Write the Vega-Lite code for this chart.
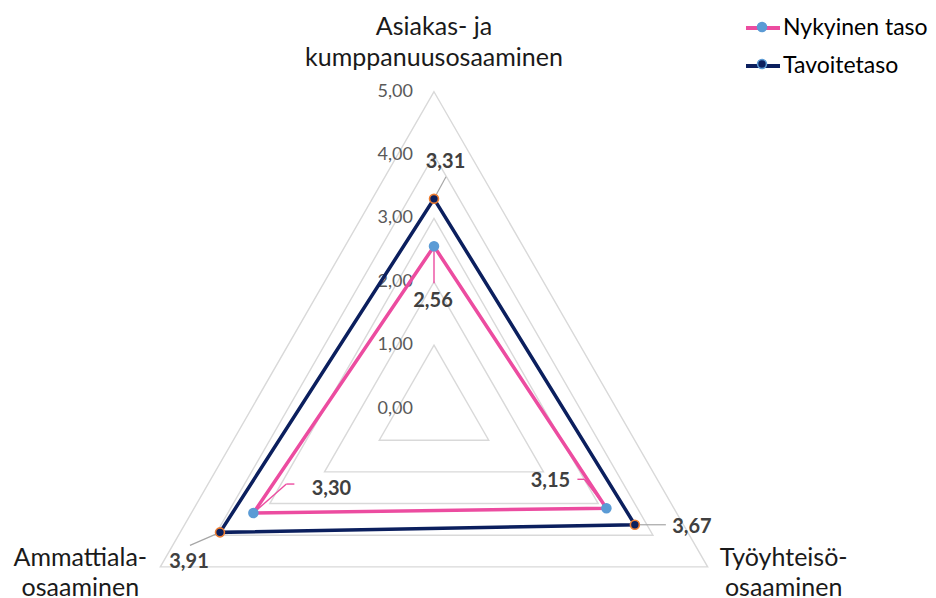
{
  "$schema": "https://vega.github.io/schema/vega-lite/v6.json",
  "width": 936,
  "height": 598,
  "padding": 0,
  "autosize": {"type": "none"},
  "config": {
    "view": {"stroke": null},
    "font": "Lato",
    "locale": {"number": {"decimal": ",", "thousands": "\u00a0", "grouping": [3], "currency": ["", " €"]}}
  },
  "datasets": {
    "scores": [
      {"cat": "Asiakas- ja kumppanuusosaaminen", "order": 0, "series": "Nykyinen taso", "value": 2.56},
      {"cat": "Työyhteisö-osaaminen", "order": 1, "series": "Nykyinen taso", "value": 3.15},
      {"cat": "Ammattiala-osaaminen", "order": 2, "series": "Nykyinen taso", "value": 3.30},
      {"cat": "Asiakas- ja kumppanuusosaaminen", "order": 0, "series": "Tavoitetaso", "value": 3.31},
      {"cat": "Työyhteisö-osaaminen", "order": 1, "series": "Tavoitetaso", "value": 3.67},
      {"cat": "Ammattiala-osaaminen", "order": 2, "series": "Tavoitetaso", "value": 3.91}
    ],
    "grid": [
      {"level": 1, "order": 0}, {"level": 1, "order": 1}, {"level": 1, "order": 2},
      {"level": 2, "order": 0}, {"level": 2, "order": 1}, {"level": 2, "order": 2},
      {"level": 3, "order": 0}, {"level": 3, "order": 1}, {"level": 3, "order": 2},
      {"level": 4, "order": 0}, {"level": 4, "order": 1}, {"level": 4, "order": 2},
      {"level": 5, "order": 0}, {"level": 5, "order": 1}, {"level": 5, "order": 2}
    ],
    "ticks": [{"level": 0}, {"level": 1}, {"level": 2}, {"level": 3}, {"level": 4}, {"level": 5}]
  },
  "data": {"name": "scores"},
  "transform": [
    {"calculate": "datum.order * 2 * PI / 3", "as": "angle"},
    {"calculate": "datum.value * sin(datum.angle)", "as": "x"},
    {"calculate": "datum.value * cos(datum.angle)", "as": "y"},
    {"calculate": "5 * sin(datum.angle)", "as": "x5"},
    {"calculate": "5 * cos(datum.angle)", "as": "y5"},
    {"calculate": "replace(datum.cat, regexp('(-( ja)?) ?'), '$1|')", "as": "catLabel"}
  ],
  "encoding": {
    "x": {"field": "x", "type": "quantitative", "scale": {"domain": [-6.867, 7.943], "nice": false, "zero": false}, "axis": null},
    "y": {"field": "y", "type": "quantitative", "scale": {"domain": [-2.991, 6.448], "nice": false, "zero": false}, "axis": null}
  },
  "layer": [
    {
      "data": {"name": "grid"},
      "transform": [
        {"calculate": "datum.order * 2 * PI / 3", "as": "angle"},
        {"calculate": "datum.level * sin(datum.angle)", "as": "x"},
        {"calculate": "datum.level * cos(datum.angle)", "as": "y"}
      ],
      "mark": {"type": "line", "interpolate": "linear-closed", "stroke": "#D9D9D9", "strokeWidth": 1.4},
      "encoding": {
        "detail": {"field": "level", "type": "nominal"},
        "order": {"field": "order", "type": "quantitative"}
      }
    },
    {
      "data": {"name": "ticks"},
      "transform": [
        {"calculate": "0", "as": "x"},
        {"calculate": "datum.level", "as": "y"}
      ],
      "mark": {"type": "text", "align": "right", "baseline": "middle", "dx": -21, "fontSize": 18, "color": "#595959"},
      "encoding": {
        "text": {"field": "level", "type": "quantitative", "format": ".2f"}
      }
    },
    {
      "mark": {"type": "line", "interpolate": "linear-closed", "strokeWidth": 3.5},
      "encoding": {
        "stroke": {
          "field": "series", "type": "nominal",
          "scale": {"domain": ["Nykyinen taso", "Tavoitetaso"], "range": ["#EC4CA0", "#0B1F5E"]},
          "legend": {
            "orient": "none", "legendX": 744, "legendY": 9, "title": null,
            "symbolType": "stroke", "symbolStrokeWidth": 4, "symbolSize": 1156,
            "labelFontSize": 23, "labelFont": "Lato", "labelColor": "#000000",
            "labelOffset": 1, "rowPadding": 7, "padding": 0
          }
        },
        "detail": {"field": "series", "type": "nominal"},
        "order": {"field": "order", "type": "quantitative"}
      }
    },
    {
      "transform": [{"filter": "datum.series == 'Tavoitetaso' && datum.order == 0"}],
      "mark": {"type": "rule", "stroke": "#A6A6A6", "strokeWidth": 1.2, "x2Offset": 12, "y2Offset": -22},
      "encoding": {"x2": {"field": "x"}, "y2": {"field": "y"}}
    },
    {
      "transform": [{"filter": "datum.series == 'Nykyinen taso' && datum.order == 0"}],
      "mark": {"type": "rule", "stroke": "#EC4CA0", "strokeWidth": 1.4, "y2Offset": 37},
      "encoding": {"x2": {"field": "x"}, "y2": {"field": "y"}}
    },
    {
      "transform": [{"filter": "datum.series == 'Nykyinen taso' && datum.order == 2"}],
      "mark": {"type": "rule", "stroke": "#EC4CA0", "strokeWidth": 1.4, "x2Offset": 33, "y2Offset": -29},
      "encoding": {"x2": {"field": "x"}, "y2": {"field": "y"}}
    },
    {
      "transform": [{"filter": "datum.series == 'Nykyinen taso' && datum.order == 2"}],
      "mark": {"type": "rule", "stroke": "#EC4CA0", "strokeWidth": 1.4, "xOffset": 33, "yOffset": -29, "x2Offset": 41, "y2Offset": -29},
      "encoding": {"x2": {"field": "x"}, "y2": {"field": "y"}}
    },
    {
      "transform": [{"filter": "datum.series == 'Tavoitetaso' && datum.order == 2"}],
      "mark": {"type": "rule", "stroke": "#A6A6A6", "strokeWidth": 1.2, "x2Offset": -30, "y2Offset": 13},
      "encoding": {"x2": {"field": "x"}, "y2": {"field": "y"}}
    },
    {
      "transform": [{"filter": "datum.series == 'Nykyinen taso' && datum.order == 1"}],
      "mark": {"type": "rule", "stroke": "#EC4CA0", "strokeWidth": 1.4, "x2Offset": -22, "y2Offset": -29},
      "encoding": {"x2": {"field": "x"}, "y2": {"field": "y"}}
    },
    {
      "transform": [{"filter": "datum.series == 'Nykyinen taso' && datum.order == 1"}],
      "mark": {"type": "rule", "stroke": "#EC4CA0", "strokeWidth": 1.4, "xOffset": -22, "yOffset": -29, "x2Offset": -29, "y2Offset": -29},
      "encoding": {"x2": {"field": "x"}, "y2": {"field": "y"}}
    },
    {
      "transform": [{"filter": "datum.series == 'Tavoitetaso' && datum.order == 1"}],
      "mark": {"type": "rule", "stroke": "#A6A6A6", "strokeWidth": 1.2, "xOffset": 5, "x2Offset": 31},
      "encoding": {"x2": {"field": "x"}, "y2": {"field": "y"}}
    },
    {
      "mark": {"type": "point", "filled": true, "shape": "circle", "size": 80, "strokeWidth": 1.6, "opacity": 1},
      "encoding": {
        "fill": {
          "field": "series", "type": "nominal",
          "scale": {"range": ["#5B9BD5", "#0B1F5E"]},
          "legend": {
            "orient": "none", "legendX": 756.5, "legendY": 21.5, "title": null,
            "symbolType": "circle", "symbolSize": 80, "symbolStrokeWidth": 1.6,
            "labelExpr": "''", "labelFontSize": 1, "labelOffset": 0, "rowPadding": 20, "padding": 0,
            "symbolOpacity": 1,
            "encode": {"symbols": {"update": {"stroke": {"signal": "datum.value === 'Tavoitetaso' ? '#ED7D31' : '#5B9BD5'"}}}}
          }
        },
        "stroke": {"condition": {"test": "datum.series == 'Tavoitetaso'", "value": "#ED7D31"}, "value": "#5B9BD5"}
      }
    },
    {
      "transform": [{"filter": "datum.series == 'Tavoitetaso' && datum.order == 0"}],
      "mark": {"type": "text", "fontSize": 20, "fontWeight": "bold", "color": "#404040", "baseline": "middle", "align": "center", "dx": 11.5, "dy": -37},
      "encoding": {"text": {"field": "value", "type": "quantitative", "format": ".2f"}}
    },
    {
      "transform": [{"filter": "datum.series == 'Nykyinen taso' && datum.order == 0"}],
      "mark": {"type": "text", "fontSize": 20, "fontWeight": "bold", "color": "#404040", "baseline": "middle", "align": "center", "dx": -1, "dy": 55},
      "encoding": {"text": {"field": "value", "type": "quantitative", "format": ".2f"}}
    },
    {
      "transform": [{"filter": "datum.series == 'Nykyinen taso' && datum.order == 2"}],
      "mark": {"type": "text", "fontSize": 20, "fontWeight": "bold", "color": "#404040", "baseline": "middle", "align": "center", "dx": 78, "dy": -24},
      "encoding": {"text": {"field": "value", "type": "quantitative", "format": ".2f"}}
    },
    {
      "transform": [{"filter": "datum.series == 'Tavoitetaso' && datum.order == 2"}],
      "mark": {"type": "text", "fontSize": 20, "fontWeight": "bold", "color": "#404040", "baseline": "middle", "align": "center", "dx": -31, "dy": 30},
      "encoding": {"text": {"field": "value", "type": "quantitative", "format": ".2f"}}
    },
    {
      "transform": [{"filter": "datum.series == 'Nykyinen taso' && datum.order == 1"}],
      "mark": {"type": "text", "fontSize": 20, "fontWeight": "bold", "color": "#404040", "baseline": "middle", "align": "center", "dx": -56, "dy": -27},
      "encoding": {"text": {"field": "value", "type": "quantitative", "format": ".2f"}}
    },
    {
      "transform": [{"filter": "datum.series == 'Tavoitetaso' && datum.order == 1"}],
      "mark": {"type": "text", "fontSize": 20, "fontWeight": "bold", "color": "#404040", "baseline": "middle", "align": "center", "dx": 57, "dy": 2},
      "encoding": {"text": {"field": "value", "type": "quantitative", "format": ".2f"}}
    },
    {
      "transform": [{"filter": "datum.series == 'Nykyinen taso' && datum.order == 0"}],
      "mark": {"type": "text", "fontSize": 25, "color": "#1A1A1A", "baseline": "middle", "align": "center", "lineBreak": "|", "lineHeight": 31, "dy": -64.5},
      "encoding": {
        "x": {"field": "x5", "type": "quantitative"},
        "y": {"field": "y5", "type": "quantitative"},
        "text": {"field": "catLabel", "type": "nominal"}
      }
    },
    {
      "transform": [{"filter": "datum.series == 'Nykyinen taso' && datum.order == 1"}],
      "mark": {"type": "text", "fontSize": 25, "color": "#1A1A1A", "baseline": "middle", "align": "center", "lineBreak": "|", "lineHeight": 30, "dx": 76, "dy": -8.5},
      "encoding": {
        "x": {"field": "x5", "type": "quantitative"},
        "y": {"field": "y5", "type": "quantitative"},
        "text": {"field": "catLabel", "type": "nominal"}
      }
    },
    {
      "transform": [{"filter": "datum.series == 'Nykyinen taso' && datum.order == 2"}],
      "mark": {"type": "text", "fontSize": 25, "color": "#1A1A1A", "baseline": "middle", "align": "center", "lineBreak": "|", "lineHeight": 30, "dx": -80, "dy": -8.5},
      "encoding": {
        "x": {"field": "x5", "type": "quantitative"},
        "y": {"field": "y5", "type": "quantitative"},
        "text": {"field": "catLabel", "type": "nominal"}
      }
    }
  ]
}
